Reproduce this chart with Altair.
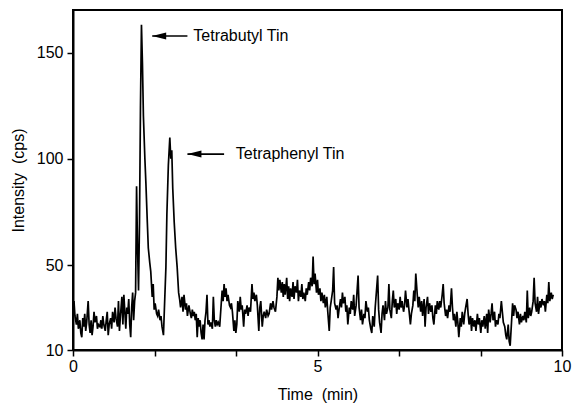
import altair as alt
import pandas as pd

# Chromatogram trace: retention time (min) and detector intensity (cps)
time_min = [
    0.00, 0.02, 0.04, 0.07, 0.09, 0.11, 0.14, 0.16, 0.18, 0.20,
    0.22, 0.24, 0.26, 0.28, 0.31, 0.33, 0.35, 0.37, 0.39, 0.41,
    0.43, 0.45, 0.48, 0.50, 0.52, 0.55, 0.57, 0.59, 0.61, 0.63,
    0.66, 0.68, 0.70, 0.72, 0.74, 0.77, 0.79, 0.81, 0.84, 0.86,
    0.88, 0.91, 0.93, 0.95, 0.97, 1.00, 1.02, 1.04, 1.06, 1.08,
    1.10, 1.12, 1.14, 1.16, 1.18, 1.20, 1.22, 1.24, 1.26, 1.28,
    1.30, 1.32, 1.34, 1.36, 1.38, 1.40, 1.42, 1.44, 1.47, 1.49,
    1.52, 1.54, 1.57, 1.59, 1.62, 1.64, 1.66, 1.68, 1.71, 1.73,
    1.75, 1.78, 1.80, 1.82, 1.85, 1.87, 1.90, 1.92, 1.95, 1.98,
    2.00, 2.02, 2.04, 2.07, 2.10, 2.13, 2.16, 2.18, 2.20, 2.23,
    2.25, 2.27, 2.30, 2.32, 2.34, 2.37, 2.40, 2.42, 2.44, 2.46,
    2.48, 2.50, 2.52, 2.54, 2.56, 2.58, 2.60, 2.62, 2.64, 2.66,
    2.68, 2.70, 2.72, 2.74, 2.76, 2.78, 2.80, 2.82, 2.85, 2.87,
    2.89, 2.91, 2.93, 2.95, 2.97, 3.00, 3.02, 3.05, 3.07, 3.09,
    3.11, 3.13, 3.15, 3.17, 3.20, 3.22, 3.24, 3.26, 3.29, 3.31,
    3.33, 3.35, 3.37, 3.40, 3.42, 3.44, 3.46, 3.49, 3.51, 3.53,
    3.56, 3.58, 3.60, 3.63, 3.66, 3.68, 3.70, 3.72, 3.75, 3.77,
    3.80, 3.82, 3.84, 3.87, 3.89, 3.91, 3.94, 3.96, 3.99, 4.01,
    4.04, 4.06, 4.09, 4.11, 4.14, 4.17, 4.19, 4.21, 4.23, 4.26,
    4.28, 4.30, 4.32, 4.34, 4.37, 4.39, 4.41, 4.43, 4.45, 4.48,
    4.50, 4.52, 4.54, 4.57, 4.59, 4.61, 4.63, 4.66, 4.68, 4.70,
    4.72, 4.75, 4.77, 4.79, 4.82, 4.84, 4.86, 4.89, 4.91, 4.93,
    4.95, 4.98, 5.00, 5.02, 5.05, 5.07, 5.09, 5.12, 5.14, 5.16,
    5.19, 5.21, 5.24, 5.26, 5.28, 5.31, 5.33, 5.35, 5.38, 5.40,
    5.42, 5.44, 5.47, 5.49, 5.51, 5.53, 5.56, 5.58, 5.60, 5.62,
    5.65, 5.67, 5.69, 5.72, 5.74, 5.76, 5.79, 5.81, 5.83, 5.85,
    5.88, 5.90, 5.92, 5.95, 5.97, 5.99, 6.02, 6.04, 6.06, 6.09,
    6.11, 6.13, 6.16, 6.18, 6.20, 6.23, 6.25, 6.27, 6.30, 6.32,
    6.34, 6.37, 6.39, 6.41, 6.44, 6.46, 6.48, 6.51, 6.53, 6.55,
    6.57, 6.60, 6.62, 6.64, 6.67, 6.69, 6.71, 6.73, 6.76, 6.78,
    6.80, 6.83, 6.85, 6.87, 6.90, 6.92, 6.95, 6.97, 6.99, 7.01,
    7.04, 7.06, 7.08, 7.11, 7.13, 7.15, 7.18, 7.20, 7.22, 7.25,
    7.27, 7.29, 7.32, 7.34, 7.36, 7.38, 7.41, 7.43, 7.45, 7.48,
    7.50, 7.52, 7.55, 7.57, 7.59, 7.62, 7.64, 7.66, 7.69, 7.71,
    7.74, 7.76, 7.78, 7.80, 7.83, 7.85, 7.87, 7.89, 7.92, 7.94,
    7.96, 7.99, 8.01, 8.03, 8.06, 8.08, 8.10, 8.13, 8.15, 8.17,
    8.20, 8.22, 8.24, 8.27, 8.29, 8.31, 8.34, 8.36, 8.38, 8.41,
    8.43, 8.46, 8.48, 8.50, 8.53, 8.55, 8.57, 8.59, 8.62, 8.64,
    8.66, 8.69, 8.71, 8.73, 8.76, 8.78, 8.80, 8.83, 8.85, 8.87,
    8.90, 8.92, 8.94, 8.96, 8.99, 9.01, 9.03, 9.06, 9.08, 9.10,
    9.13, 9.15, 9.17, 9.20, 9.22, 9.24, 9.27, 9.29, 9.31, 9.34,
    9.36, 9.38, 9.41, 9.43, 9.45, 9.48, 9.50, 9.52, 9.55, 9.57,
    9.59, 9.62, 9.64, 9.66, 9.69, 9.71, 9.73, 9.75, 9.78, 9.80,
    9.82,
]
intensity_cps = [
    31, 33, 26, 22, 27, 20, 24, 18, 16, 25,
    21, 27, 19, 23, 33, 22, 18, 24, 17, 21,
    28, 23, 26, 20, 22, 21, 24, 20, 26, 22,
    19, 24, 28, 17, 22, 25, 20, 28, 23, 30,
    25, 21, 33, 19, 26, 35, 22, 36, 28, 20,
    30, 27, 34, 22, 16, 30, 37, 24, 33, 37,
    87, 58, 38, 70, 125, 163, 145, 120, 100, 89,
    70, 58, 51, 47, 35, 41, 29, 32, 27, 26,
    29, 24, 26, 21, 17, 30, 49, 74, 97, 110,
    100, 104, 86, 70, 58, 49, 37, 34, 30, 35,
    28, 36, 29, 32, 26, 31, 27, 25, 29, 26,
    28, 24, 27, 16, 25, 21, 24, 18, 15, 22,
    15, 24, 28, 36, 22, 24, 21, 23, 20, 35,
    24, 21, 24, 22, 23, 21, 28, 38, 33, 41,
    35, 39, 33, 36, 31, 30, 32, 28, 19, 24,
    18, 22, 33, 28, 35, 29, 31, 21, 29, 27,
    31, 26, 30, 28, 41, 34, 37, 33, 36, 31,
    19, 30, 33, 21, 26, 28, 25, 29, 26, 27,
    32, 29, 33, 30, 28, 35, 44, 38, 43, 37,
    42, 35, 41, 36, 44, 34, 40, 33, 39, 35,
    42, 34, 40, 37, 43, 33, 38, 35, 41, 34,
    37, 33, 39, 36, 42, 38, 44, 40, 54, 41,
    46, 37, 43, 36, 39, 33, 37, 32, 36, 30,
    35, 28, 19, 30, 33, 38, 49, 32, 29, 31,
    25, 29, 34, 30, 37, 32, 35, 28, 31, 22,
    30, 27, 33, 29, 36, 26, 31, 38, 45, 30,
    24, 29, 22, 27, 25, 33, 28, 30, 24, 20,
    18, 26, 21, 30, 36, 45, 29, 23, 18, 27,
    31, 24, 33, 27, 30, 41, 29, 25, 33, 38,
    30, 34, 27, 32, 29, 35, 30, 33, 28, 31,
    38, 30, 34, 29, 22, 27, 31, 38, 33, 46,
    36, 30, 35, 28, 33, 26, 34, 21, 30, 35,
    27, 32, 28, 31, 25, 22, 31, 27, 33, 29,
    33, 30, 36, 41, 32, 26, 29, 25, 31, 28,
    39, 30, 24, 27, 21, 28, 23, 16, 25, 21,
    28, 22, 27, 30, 34, 27, 22, 26, 19, 25,
    21, 24, 19, 27, 22, 25, 18, 24, 21, 26,
    20, 27, 18, 29, 23, 27, 32, 24, 28, 21,
    24, 22, 27, 25, 33, 28, 23, 21, 17, 15,
    22, 14, 12, 20, 32, 26, 31, 29, 25, 28,
    22, 27, 23, 26, 24, 28, 23, 38, 25, 30,
    26, 28, 33, 44, 32, 28, 35, 27, 33, 30,
    34, 31, 33, 28, 36, 32, 42, 33, 37, 34,
    36,
]

# Peak annotations: arrow tip / tail times, arrow level, label start time
peak_names = ["Tetrabutyl Tin", "Tetraphenyl Tin"]
arrow_tip_min = [1.62, 2.34]
arrow_tail_min = [2.34, 3.09]
arrow_level_cps = [157.8, 102.2]
label_start_min = [2.46, 3.33]

trace = pd.DataFrame({"time": time_min, "cps": intensity_cps})
notes = pd.DataFrame({
    "name": peak_names,
    "tip": arrow_tip_min,
    "tail": arrow_tail_min,
    "level": arrow_level_cps,
    "label_at": label_start_min,
})

FONT = "Liberation Sans"

x_scale = alt.Scale(domain=[0, 10], nice=False, zero=False)
y_scale = alt.Scale(domain=[10, 170], nice=False, zero=False)

x_axis = alt.Axis(
    values=[0, 10 / 6, 20 / 6, 5, 40 / 6, 50 / 6, 10],
    labelExpr="datum.value == 0 ? '0' : datum.value == 5 ? '5' : datum.value == 10 ? '10' : ''",
    grid=False,
    tickSize=6,
    tickWidth=1.5,
    tickColor="black",
    domainColor="black",
    domainWidth=2,
    labelFont=FONT,
    labelFontSize=16,
    labelColor="black",
    labelPadding=2,
    labelFlush=False,
    title="Time\u00a0 (min)",
    titleFont=FONT,
    titleFontSize=16,
    titleFontWeight="normal",
    titleColor="black",
    titlePadding=12,
)

y_axis = alt.Axis(
    values=[10, 50, 100, 150],
    grid=False,
    tickSize=6,
    tickWidth=1.5,
    tickColor="black",
    domainColor="black",
    domainWidth=2,
    labelFont=FONT,
    labelFontSize=16,
    labelColor="black",
    labelPadding=4,
    labelFlush=False,
    title="Intensity\u00a0 (cps)",
    titleFont=FONT,
    titleFontSize=16,
    titleFontWeight="normal",
    titleColor="black",
    titlePadding=10,
)

line = alt.Chart(trace).mark_line(color="black", strokeWidth=1.7).encode(
    x=alt.X("time:Q", scale=x_scale, axis=x_axis),
    y=alt.Y("cps:Q", scale=y_scale, axis=y_axis),
)

arrow_shaft = alt.Chart(notes).mark_rule(color="black", strokeWidth=1.6).encode(
    x=alt.X("tip:Q", scale=x_scale),
    x2="tail:Q",
    y=alt.Y("level:Q", scale=y_scale),
)

arrow_head = alt.Chart(notes).mark_point(
    shape="M 0 0 L 2 -0.5 L 2 0.5 Z",
    size=196,
    filled=True,
    color="black",
    opacity=1,
).encode(
    x=alt.X("tip:Q", scale=x_scale),
    y=alt.Y("level:Q", scale=y_scale),
)

labels = alt.Chart(notes).mark_text(
    align="left",
    baseline="middle",
    font=FONT,
    fontSize=16,
    color="black",
).encode(
    x=alt.X("label_at:Q", scale=x_scale),
    y=alt.Y("level:Q", scale=y_scale),
    text="name:N",
)

chart = (
    alt.layer(line, arrow_shaft, arrow_head, labels)
    .properties(
        width=489,
        height=340,
        autosize="none",
        padding={"left": 73, "top": 10, "right": 10, "bottom": 56},
        background="white",
    )
    .configure_view(stroke="black", strokeWidth=2)
)

chart.save("out.html", embed_options={"renderer": "svg", "actions": False})
